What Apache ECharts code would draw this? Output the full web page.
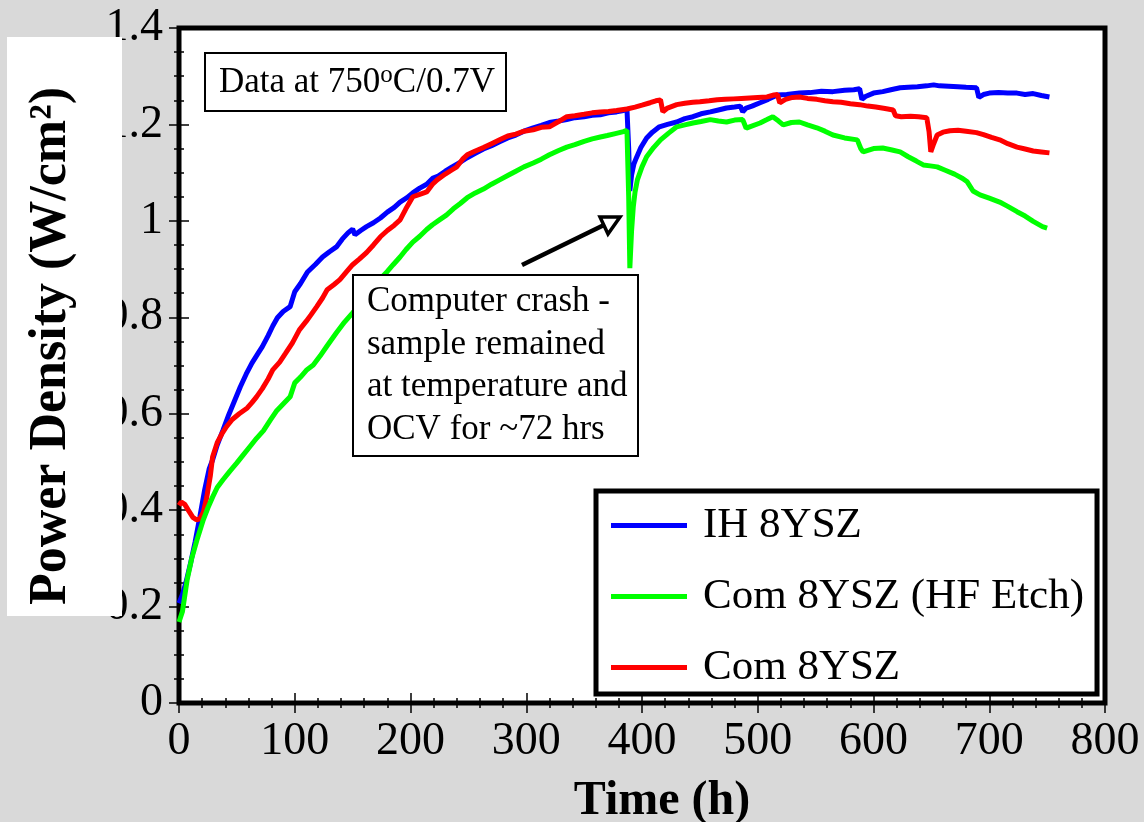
<!DOCTYPE html>
<html>
<head>
<meta charset="utf-8">
<script src="https://cdn.jsdelivr.net/npm/echarts@6/dist/echarts.min.js"></script>
<style>
html,body{margin:0;padding:0;background:#d9d9d9;}
#chart{width:1144px;height:822px;}
</style>
</head>
<body>
<div id="chart"></div>
<script>
// ---- data ----
const xTicks = [0, 100, 200, 300, 400, 500, 600, 700, 800];
const yTicks = [0, 0.2, 0.4, 0.6, 0.8, 1, 1.2, 1.4];
const seriesNames = ['IH 8YSZ', 'Com 8YSZ (HF Etch)', 'Com 8YSZ'];

const ihTime = [0,3,6,10,14,18,22,26,29,33,38,43,48,53,58,63,68,72,77,81,85,90,96,100,105,111,118,124,130,136,141,146,150,152,157,162,168,174,180,186,191,197,202,208,214,219,224,230,236,242,249,256,263,270,277,284,291,298,306,313,320,328,335,342,350,357,364,371,378,384,387,388.5,389.5,391,393,395,399,404,409,415,422,430,437,444,451,459,466,473,480,485,487,490,495,502,509,517,525,536,545,555,565,575,583,588,590,593,600,608,615,623,630,638,646,652,657,665,673,680,689,691,695,700,708,716,724,731,738,745,752];
const ihPower = [0.207,0.225,0.25,0.29,0.335,0.386,0.44,0.485,0.504,0.535,0.566,0.598,0.627,0.656,0.682,0.705,0.724,0.739,0.762,0.782,0.799,0.812,0.822,0.853,0.870,0.894,0.910,0.925,0.936,0.946,0.962,0.975,0.983,0.971,0.980,0.988,0.996,1.006,1.018,1.028,1.039,1.048,1.058,1.068,1.076,1.088,1.093,1.103,1.112,1.120,1.131,1.140,1.149,1.156,1.164,1.172,1.178,1.186,1.193,1.198,1.204,1.207,1.210,1.214,1.216,1.219,1.220,1.224,1.226,1.229,1.232,1.150,1.062,1.095,1.118,1.130,1.152,1.172,1.184,1.195,1.200,1.205,1.212,1.216,1.222,1.226,1.230,1.234,1.236,1.238,1.226,1.234,1.238,1.245,1.252,1.261,1.262,1.265,1.266,1.269,1.268,1.271,1.272,1.274,1.252,1.258,1.265,1.268,1.272,1.276,1.277,1.278,1.280,1.282,1.280,1.279,1.278,1.277,1.276,1.256,1.262,1.265,1.266,1.265,1.265,1.262,1.264,1.260,1.257];

const hfTime = [0,3,7,11,15.5,21,25,29,33,38,44,50,55,61,67,73,79,84,90,96,100,105,110,116,122,128,136,143,150,156,162,168,174,180,185,191,196,202,208,214,219,225,231,237,243,249,256,263,270,277,284,291,298,306,313,320,328,335,342,350,357,364,370,377,384,387,388.5,389.5,391,392.5,394,396,400,404,410,416,423,430,437,444,451,459,466,473,480,487,490,493,502,508,513,518,522,529,536,543,551,558,565,575,586,589,591,600,608,616,623,630,637,643,649,655,662,670,677,681,686,692,700,709,716,724,731,738,746,750];
const hfPower = [0.168,0.19,0.255,0.30,0.338,0.38,0.405,0.427,0.447,0.463,0.481,0.498,0.513,0.531,0.549,0.565,0.587,0.605,0.620,0.635,0.664,0.676,0.690,0.701,0.720,0.741,0.768,0.790,0.809,0.826,0.845,0.863,0.880,0.895,0.909,0.925,0.940,0.956,0.968,0.982,0.992,1.002,1.012,1.025,1.036,1.048,1.058,1.066,1.076,1.085,1.094,1.103,1.112,1.120,1.128,1.137,1.146,1.153,1.158,1.165,1.170,1.174,1.177,1.181,1.185,1.188,1.05,0.902,0.98,1.03,1.06,1.085,1.112,1.133,1.152,1.168,1.182,1.195,1.199,1.203,1.206,1.210,1.207,1.205,1.209,1.210,1.192,1.195,1.203,1.210,1.216,1.207,1.199,1.204,1.205,1.199,1.193,1.186,1.178,1.172,1.168,1.150,1.143,1.150,1.151,1.147,1.143,1.133,1.124,1.116,1.114,1.112,1.105,1.097,1.088,1.081,1.062,1.054,1.047,1.039,1.030,1.019,1.010,0.999,0.988,0.985];

const comTime = [0,2,5,8,12,15,18,21,24,27,29,33,37,41,46,52,59,63,67,72,77,81,87,92,98,104,110,114,119,124,128,134,139,145,150,156,162,168,174,180,186,191,196,202,208,214,219,223,230,236,240,245,249,256,263,270,277,284,291,298,306,313,320,328,335,342,350,357,364,371,378,387,394,400,407,412,416,418,422,430,437,444,450,458,465,472,479,486,493,500,508,514,517,519,524,530,536,543,551,558,565,572,580,588,595,602,610,617,619,624,632,639,646,648,649.5,652,655,660,666,673,680,689,695,702,709,716,724,731,738,745,752];
const comPower = [0.41,0.417,0.412,0.40,0.385,0.38,0.382,0.395,0.427,0.47,0.51,0.54,0.558,0.573,0.588,0.600,0.612,0.623,0.635,0.652,0.672,0.691,0.707,0.725,0.747,0.774,0.792,0.805,0.822,0.840,0.857,0.868,0.878,0.895,0.909,0.921,0.934,0.950,0.967,0.980,0.991,1.002,1.025,1.050,1.055,1.060,1.076,1.085,1.097,1.106,1.112,1.128,1.137,1.145,1.152,1.160,1.168,1.176,1.180,1.186,1.189,1.194,1.195,1.206,1.216,1.218,1.221,1.224,1.226,1.227,1.229,1.232,1.236,1.240,1.245,1.249,1.251,1.226,1.234,1.241,1.244,1.246,1.247,1.249,1.251,1.252,1.253,1.254,1.255,1.256,1.257,1.261,1.262,1.245,1.252,1.256,1.257,1.254,1.252,1.249,1.247,1.246,1.243,1.241,1.238,1.236,1.233,1.230,1.218,1.216,1.217,1.216,1.214,1.185,1.143,1.160,1.178,1.184,1.187,1.188,1.186,1.183,1.179,1.173,1.168,1.160,1.153,1.149,1.145,1.143,1.141];

function pairs(t, v) { return t.map((x, i) => [x, v[i]]); }

const FONT = "'Liberation Serif', 'Times New Roman', serif";
const chart = echarts.init(document.getElementById('chart'));

const tickStyle = { color: '#000', width: 1.5 };
function axisCommon(extra, minorSplit) {
  return Object.assign({
    type: 'value',
    axisLine: { show: false },
    axisTick: { show: true, inside: true, length: 10, lineStyle: tickStyle },
    minorTick: { show: true, splitNumber: minorSplit, length: 5, lineStyle: tickStyle },
    splitLine: { show: false },
    minorSplitLine: { show: false }
  }, extra);
}

chart.setOption({
  animation: false,
  backgroundColor: '#d9d9d9',
  grid: {
    left: 179, right: 39, top: 28, bottom: 119,
    containLabel: false, outerBoundsMode: 'none',
    show: true, backgroundColor: '#ffffff', borderColor: '#000', borderWidth: 5
  },
  xAxis: [
    axisCommon({
      min: xTicks[0], max: xTicks[xTicks.length - 1], interval: 100,
      axisLabel: { fontFamily: FONT, fontSize: 46, color: '#000', margin: 16,
                   alignMinLabel: 'center', alignMaxLabel: 'center' },
      name: 'Time (h)', nameLocation: 'middle', nameGap: 75,
      nameTextStyle: { fontFamily: FONT, fontSize: 48, fontWeight: 'bold', color: '#000', padding: [0, 0, 0, 40] }
    }, 5),
    axisCommon({
      position: 'top',
      min: xTicks[0], max: xTicks[xTicks.length - 1], interval: 100,
      axisLabel: { show: false }
    }, 5)
  ],
  yAxis: [
    axisCommon({
      min: yTicks[0], max: yTicks[yTicks.length - 1], interval: 0.2,
      axisLabel: { fontFamily: FONT, fontSize: 46, color: '#000', margin: 16, showMaxLabel: true, showMinLabel: true,
                   verticalAlignMinLabel: 'middle', verticalAlignMaxLabel: 'middle' }
    }, 4),
    axisCommon({
      position: 'right',
      min: yTicks[0], max: yTicks[yTicks.length - 1], interval: 0.2,
      axisLabel: { show: false }
    }, 4)
  ],
  legend: {
    data: seriesNames,
    orient: 'vertical',
    left: 596, top: 491,
    padding: [13, 13, 5, 15],
    itemGap: 28,
    itemWidth: 76, itemHeight: 5,
    icon: 'rect',
    backgroundColor: '#ffffff',
    borderColor: '#000', borderWidth: 5, borderRadius: 0,
    textStyle: { fontFamily: FONT, fontSize: 43, color: '#000', lineHeight: 42, padding: [0, 0, 0, 11] }
  },
  series: [
    { name: seriesNames[0], type: 'line', data: pairs(ihTime, ihPower), showSymbol: false, symbol: 'none',
      lineStyle: { color: '#0000ff', width: 5 }, itemStyle: { color: '#0000ff' }, z: 2 },
    { name: seriesNames[2], type: 'line', data: pairs(comTime, comPower), showSymbol: false, symbol: 'none',
      lineStyle: { color: '#ff0000', width: 5 }, itemStyle: { color: '#ff0000' }, z: 3 },
    { name: seriesNames[1], type: 'line', data: pairs(hfTime, hfPower), showSymbol: false, symbol: 'none',
      lineStyle: { color: '#00ff00', width: 5 }, itemStyle: { color: '#00ff00' }, z: 4 }
  ],
  graphic: [
    // white panel behind the y-axis title
    { type: 'rect', z: 10, shape: { x: 7, y: 37, width: 115, height: 579 }, style: { fill: '#ffffff' } },
    { type: 'text', z: 11, x: 52, y: 346, rotation: Math.PI / 2,
      style: { text: 'Power Density (W/cm²)', fontFamily: FONT, fontSize: 52, fontWeight: 'bold', fill: '#000',
               align: 'center', verticalAlign: 'middle' } },
    // data condition box
    { type: 'rect', z: 10, shape: { x: 205, y: 53, width: 301, height: 58 },
      style: { fill: '#ffffff', stroke: '#000', lineWidth: 2 } },
    { type: 'text', z: 11, x: 219, y: 83,
      style: { text: '{a|Data at 750}{s|o}{a|C/0.7V}', verticalAlign: 'middle', align: 'left',
        rich: {
          a: { fontFamily: FONT, fontSize: 35, fill: '#000', color: '#000' },
          s: { fontFamily: FONT, fontSize: 25, fill: '#000', color: '#000', padding: [0, 0, 16, 0] }
        } } },
    // callout box
    { type: 'rect', z: 10, shape: { x: 353, y: 275, width: 285, height: 181 },
      style: { fill: '#ffffff', stroke: '#000', lineWidth: 2 } },
    { type: 'text', z: 11, x: 367, y: 281,
      style: { text: 'Computer crash -\nsample remained\nat temperature and\nOCV for ~72 hrs',
               fontFamily: FONT, fontSize: 35, lineHeight: 42.5, fill: '#000', align: 'left', verticalAlign: 'top' } },
    // arrow
    { type: 'line', z: 10, shape: { x1: 522, y1: 265, x2: 604, y2: 225 }, style: { stroke: '#000', lineWidth: 4.5 } },
    { type: 'polygon', z: 11, shape: { points: [[620, 217], [600, 217], [608, 234]] },
      style: { fill: '#ffffff', stroke: '#000', lineWidth: 3.5, lineJoin: 'miter' } }
  ]
});
</script>
</body>
</html>
